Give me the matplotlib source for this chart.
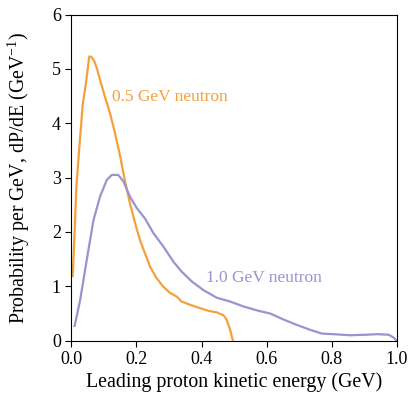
import matplotlib
matplotlib.use("Agg")
import matplotlib.pyplot as plt

plt.rcParams['font.family'] = ['Liberation Serif', 'DejaVu Serif']
plt.rcParams['mathtext.fontset'] = 'custom'
plt.rcParams['mathtext.rm'] = 'Liberation Serif'
plt.rcParams['mathtext.it'] = 'Liberation Serif:italic'

# 0.5 GeV neutron
e05 = [0.004, 0.010, 0.015, 0.025, 0.035, 0.045, 0.055, 0.062, 0.070, 0.078, 0.088,
       0.103, 0.119, 0.134, 0.150, 0.165, 0.180, 0.196, 0.211, 0.226, 0.242,
       0.262, 0.283, 0.303, 0.324, 0.339, 0.365, 0.395, 0.421, 0.447, 0.467,
       0.477, 0.488, 0.496]
p05 = [1.19, 2.0, 2.8, 3.6, 4.35, 4.75, 5.23, 5.22, 5.15, 5.02, 4.80,
       4.49, 4.18, 3.82, 3.39, 2.93, 2.53, 2.16, 1.85, 1.61, 1.36,
       1.15, 0.99, 0.88, 0.81, 0.72, 0.66, 0.60, 0.55, 0.52, 0.47,
       0.39, 0.20, 0.01]

# 1.0 GeV neutron
e10 = [0.010, 0.027, 0.047, 0.068, 0.088, 0.109, 0.124, 0.144, 0.160, 0.180,
       0.201, 0.226, 0.252, 0.283, 0.314, 0.339, 0.370, 0.406, 0.447, 0.488,
       0.529, 0.575, 0.611, 0.652, 0.693, 0.734, 0.770, 0.805, 0.857, 0.908,
       0.939, 0.975, 0.990, 0.998]
p10 = [0.27, 0.75, 1.48, 2.22, 2.65, 2.96, 3.05, 3.05, 2.93, 2.65,
       2.44, 2.25, 1.98, 1.73, 1.45, 1.27, 1.09, 0.93, 0.79, 0.72,
       0.63, 0.55, 0.50, 0.39, 0.29, 0.20, 0.13, 0.12, 0.10, 0.11,
       0.12, 0.11, 0.06, 0.01]

orange = '#f5a03c'
purple = '#9b92d0'

fig = plt.figure(figsize=(4.15, 3.95), dpi=100)
ax = fig.add_axes([0.172, 0.1375, 0.784, 0.8255])
ax.plot(e05, p05, color=orange, lw=1.6)
ax.plot(e10, p10, color=purple, lw=1.6)
ax.text(0.125, 4.49, '0.5 GeV neutron', color=orange, fontsize=12.5, va='center', ha='left')
ax.text(0.413, 1.16, '1.0 GeV neutron', color=purple, fontsize=12.5, va='center', ha='left')

ax.set_xlim(0, 1.0)
ax.set_ylim(0, 6)
ax.set_xticks([0.0, 0.2, 0.4, 0.6, 0.8, 1.0])
ax.set_yticks([0, 1, 2, 3, 4, 5, 6])
ax.set_xticklabels(['0.0', '0.2', '0.4', '0.6', '0.8', '1.0'])
ax.tick_params(direction='out', length=4, width=0.8, labelsize=13, top=False, right=False)
ax.set_xlabel('Leading proton kinetic energy (GeV)', fontsize=14.3, labelpad=3)
ax.set_ylabel('Probability per GeV, dP/dE (GeV$^{-1}$)', fontsize=14.3, labelpad=14)
for s in ax.spines.values():
    s.set_linewidth(0.8)

fig.savefig('out.png', dpi=100)
